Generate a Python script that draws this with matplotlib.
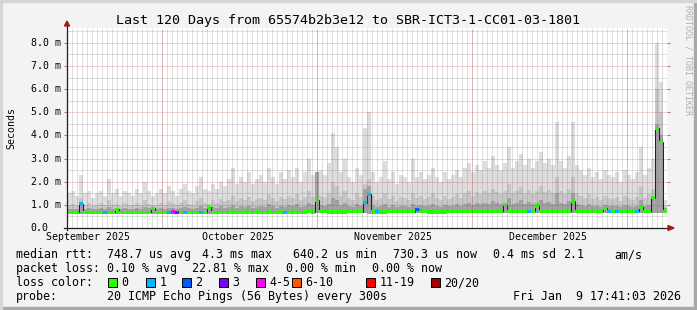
import numpy as np
import matplotlib
matplotlib.use("Agg")
import matplotlib.pyplot as plt
from matplotlib.patches import Rectangle, Polygon

# ---------------- data ----------------
title = "Last 120 Days from 65574b2b3e12 to SBR-ICT3-1-CC01-03-1801"
n_days = 120
bin_days = 0.8  # 150 bins across 120 days

smoke_max = [
    1.5, 1.6, 1.4, 2.3, 1.5, 1.6, 1.3, 1.5,
    1.6, 1.4, 2.1, 1.5, 1.7, 1.4, 1.6, 1.5,
    1.4, 1.7, 1.5, 2.0, 1.6, 1.4, 1.5, 1.7,
    1.5, 1.8, 1.6, 1.4, 1.7, 1.9, 1.6, 1.5,
    1.8, 2.2, 1.7, 1.6, 1.9, 1.7, 2.0, 1.8,
    2.1, 2.6, 1.9, 2.2, 2.0, 2.4, 1.9, 2.1,
    2.3, 2.0, 2.6, 2.2, 1.9, 2.4, 2.1, 2.5,
    2.2, 2.6, 2.0, 2.4, 3.0, 2.3, 2.1, 2.5,
    2.3, 2.8, 4.1, 3.5, 2.4, 3.0, 2.2, 2.0,
    2.6, 2.3, 4.3, 5.0, 2.4, 2.0, 2.2, 2.9,
    2.1, 2.4, 1.9, 2.3, 2.2, 2.0, 3.0, 2.2,
    2.4, 2.1, 2.3, 2.6, 2.2, 2.0, 2.4, 2.1,
    2.3, 2.5, 2.2, 2.6, 2.8, 2.4, 2.7, 2.5,
    2.9, 2.6, 3.1, 2.7, 2.5, 2.8, 3.5, 2.6,
    2.9, 3.2, 2.7, 3.0, 2.6, 2.9, 3.3, 2.8,
    3.0, 2.7, 4.6, 2.9, 2.6, 3.1, 4.6, 2.7,
    2.5, 2.3, 2.6, 2.2, 2.4, 2.1, 2.5, 2.3,
    2.2, 2.4, 2.0, 2.5, 2.3, 2.1, 2.4, 3.5,
    2.3, 2.6, 3.0, 8.0, 6.3, 1.2,
]
smoke_mid = [
    1.0, 1.05, 0.95, 1.3, 1.0, 1.1, 0.95, 1.0,
    1.1, 1.0, 1.2, 1.0, 1.05, 0.95, 1.1, 1.0,
    1.0, 1.1, 1.0, 1.2, 1.05, 1.0, 1.0, 1.1,
    1.0, 1.15, 1.1, 1.0, 1.1, 1.2, 1.05, 1.0,
    1.15, 1.3, 1.1, 1.05, 1.2, 1.1, 1.25, 1.15,
    1.2, 1.4, 1.15, 1.3, 1.2, 1.35, 1.15, 1.25,
    1.3, 1.2, 1.45, 1.3, 1.15, 1.35, 1.25, 1.4,
    1.3, 1.45, 1.2, 1.35, 1.6, 1.35, 1.25, 1.4,
    1.35, 1.5, 2.0, 1.8, 1.4, 1.6, 1.3, 1.2,
    1.5, 1.35, 1.9, 2.1, 1.4, 1.2, 1.3, 1.5,
    1.25, 1.4, 1.15, 1.35, 1.3, 1.2, 1.5, 1.3,
    1.4, 1.25, 1.35, 1.5, 1.3, 1.2, 1.4, 1.25,
    1.35, 1.45, 1.3, 1.5, 1.6, 1.4, 1.55, 1.45,
    1.6, 1.5, 1.7, 1.55, 1.45, 1.6, 1.9, 1.5,
    1.6, 1.75, 1.5, 1.65, 1.45, 1.6, 1.8, 1.55,
    1.65, 1.5, 2.2, 1.6, 1.45, 1.7, 2.2, 1.5,
    1.4, 1.3, 1.45, 1.25, 1.35, 1.2, 1.4, 1.3,
    1.25, 1.35, 1.15, 1.4, 1.3, 1.2, 1.35, 1.8,
    1.3, 1.45, 1.7, 6.0, 5.0, 0.95,
]
smoke_dark = [
    0.82, 0.84, 0.82, 1.0, 0.83, 0.85, 0.82, 0.83,
    0.85, 0.83, 0.9, 0.83, 0.84, 0.82, 0.85, 0.83,
    0.83, 0.86, 0.84, 0.92, 0.85, 0.83, 0.84, 0.86,
    0.84, 0.88, 0.87, 0.84, 0.86, 0.9, 0.85, 0.84,
    0.88, 0.95, 0.87, 0.85, 0.9, 0.87, 0.93, 0.88,
    0.9, 1.0, 0.88, 0.95, 0.9, 0.97, 0.88, 0.92,
    0.95, 0.9, 1.02, 0.95, 0.88, 0.97, 0.92, 1.0,
    0.95, 1.02, 0.9, 0.97, 1.1, 0.98, 2.4, 1.0,
    0.97, 1.05, 1.3, 1.2, 1.0, 1.1, 0.95, 0.92,
    1.05, 0.97, 1.7, 1.8, 1.0, 0.92, 0.95, 1.05,
    0.92, 1.0, 0.9, 0.97, 0.95, 0.92, 1.05, 0.95,
    1.0, 0.93, 0.97, 1.05, 0.95, 0.92, 1.0, 0.93,
    0.97, 1.02, 0.95, 1.05, 1.1, 1.0, 1.08, 1.02,
    1.1, 1.05, 1.15, 1.08, 1.02, 1.1, 1.3, 1.05,
    1.1, 1.2, 1.05, 1.12, 1.02, 1.1, 1.2, 1.08,
    1.12, 1.05, 1.5, 1.1, 1.02, 1.15, 1.5, 1.05,
    1.0, 0.95, 1.02, 0.93, 0.97, 0.92, 1.0, 0.95,
    0.93, 0.97, 0.9, 1.0, 0.95, 0.92, 0.97, 1.2,
    0.95, 1.0, 1.3, 4.5, 4.0, 0.85,
]
median = [
    0.68, 0.68, 0.68, 1.05, 0.68, 0.68, 0.68, 0.68,
    0.68, 0.68, 0.68, 0.68, 0.8, 0.68, 0.68, 0.68,
    0.68, 0.68, 0.68, 0.68, 0.68, 0.85, 0.68, 0.68,
    0.68, 0.68, 0.69, 0.68, 0.68, 0.68, 0.68, 0.68,
    0.68, 0.68, 0.68, 0.9, 0.68, 0.68, 0.68, 0.68,
    0.68, 0.69, 0.68, 0.68, 0.69, 0.68, 0.68, 0.69,
    0.68, 0.68, 0.69, 0.68, 0.68, 0.69, 0.68, 0.68,
    0.69, 0.68, 0.68, 0.69, 0.7, 0.69, 1.2, 0.7,
    0.7, 0.7, 0.71, 0.7, 0.7, 0.7, 0.7, 0.7,
    0.7, 0.7, 1.1, 1.45, 0.7, 0.7, 0.7, 0.7,
    0.7, 0.7, 0.7, 0.71, 0.7, 0.7, 0.7, 0.8,
    0.7, 0.7, 0.71, 0.7, 0.7, 0.71, 0.7, 0.7,
    0.71, 0.71, 0.72, 0.72, 0.72, 0.72, 0.73, 0.72,
    0.72, 0.73, 0.72, 0.72, 0.73, 1.0, 0.72, 0.72,
    0.73, 0.72, 0.72, 0.72, 0.73, 0.95, 0.72, 0.73,
    0.72, 0.72, 0.73, 0.72, 0.72, 0.72, 1.15, 0.72,
    0.72, 0.73, 0.72, 0.72, 0.72, 0.72, 0.85, 0.72,
    0.72, 0.72, 0.73, 0.72, 0.72, 0.72, 0.72, 0.9,
    0.72, 0.72, 1.3, 4.3, 3.7, 0.72,
]
loss = [0] * 150
for _i, _v in [(3, 1), (9, 1), (25, 1), (26, 4), (27, 3), (29, 1), (33, 1), (54, 1),
               (74, 1), (75, 1), (77, 1), (87, 2), (115, 1), (135, 1), (137, 1), (142, 1)]:
    loss[_i] = _v
smoke_min_4day = [0.61, 0.61, 0.62, 0.61, 0.61, 0.62, 0.61, 0.62, 0.62, 0.62,
                  0.62, 0.62, 0.63, 0.62, 0.63, 0.62, 0.63, 0.63, 0.62, 0.63,
                  0.63, 0.63, 0.64, 0.63, 0.63, 0.64, 0.63, 0.63, 0.64, 0.63]

loss_labels = ["0", "1", "2", "3", "4-5", "6-10", "11-19", "20/20"]
loss_colors = ["#26ff00", "#00b8ff", "#0059ff", "#7e00ff", "#ff00ff", "#ff5500", "#ff0000", "#a10000"]
loss_code_color = {0: 0, 1: 1, 2: 2, 3: 3, 4: 4, 5: 4}

month_labels = ["September 2025", "October 2025", "November 2025", "December 2025"]
month_label_pos = [4.2, 34.16, 65.16, 96.2]
month_grid_pos = [19.06, 50.06, 81.06, 112.06]
y_ticks = [0, 1, 2, 3, 4, 5, 6, 7, 8]
y_tick_labels = ["0.0", "1.0 m", "2.0 m", "3.0 m", "4.0 m", "5.0 m", "6.0 m", "7.0 m", "8.0 m"]

legend_line1 = [("median rtt:", 16), ("748.7 us avg", 107), ("4.3 ms max", 202),
                ("640.2 us min", 293), ("730.3 us now", 393), ("0.4 ms sd", 493),
                ("2.1", 563), ("am/s", 614)]
legend_line2 = [("packet loss:", 16), ("0.10 % avg", 107), ("22.81 % max", 192),
                ("0.00 % min", 286), ("0.00 % now", 372)]
loss_box_x = [108, 146, 182, 219, 256, 292, 366, 431]
probe_text = "20 ICMP Echo Pings (56 Bytes) every 300s"
date_text = "Fri Jan  9 17:41:03 2026"

# ---------------- figure ----------------
W, H = 697, 310
fig = plt.figure(figsize=(W / 100, H / 100), dpi=100)
fig.patch.set_facecolor("#f3f3f3")
MONO = "DejaVu Sans Mono"

def fx(x):
    return x / W

def fy(y):
    return 1 - y / H

# frame
for rect, c in [((0, 0, 1, fy(307)), "#a8a8a8"),
                ((fx(694), 0, 1, 1), "#a8a8a8"),
                ((0, fy(2), 1, 1), "#d6d6d6"),
                ((0, 0, fx(2), 1), "#d6d6d6")]:
    fig.patches.append(Rectangle((rect[0], rect[1]), rect[2], rect[3], transform=fig.transFigure,
                                 color=c, zorder=-10))

YPX = 23.15
ax = fig.add_axes([fx(67), fy(228), 600 / W, 200 / H])
ax.set_zorder(2)
ax.set_facecolor("white")
ax.set_xlim(0, n_days)
ax.set_ylim(0, 200 / YPX)
for s in ax.spines.values():
    s.set_visible(False)

edges = np.arange(len(smoke_max) + 1) * bin_days
smin = np.repeat(np.array(smoke_min_4day), 5)

ax.stairs(smoke_max, edges, baseline=smin, fill=True, color="#dddddd", lw=0, zorder=1)
ax.stairs(smoke_mid, edges, baseline=smin, fill=True, color="#c6c6c6", lw=0, zorder=2)
ax.stairs(smoke_dark, edges, baseline=smin, fill=True, color="#a2a2a2", lw=0, zorder=3)

med = np.array(median)
ax.stairs(med, edges, color="#202020", lw=0.75, zorder=4, baseline=None)
hh = 0.066
cols = [loss_colors[loss_code_color[l]] for l in loss]
ax.bar(edges[:-1], 2 * hh, bottom=med - hh, width=bin_days, align="edge", color=cols, lw=0, zorder=5)

# grid
grid_minor = (0.5, 0.5, 0.5, 0.5)
grid_major = (0.9, 0.1, 0.1, 0.4)
dots = (0, (1, 1))
ax.vlines(np.arange(0.06, n_days, 1.0), 0, 200 / YPX, colors=[grid_minor], lw=0.72, linestyles=dots, zorder=6)
ax.hlines(np.arange(0.5, 8.7, 1.0), 0, n_days, colors=[grid_minor], lw=0.72, linestyles=dots, zorder=6)
ax.vlines(month_grid_pos, 0, 200 / YPX, colors=[grid_major], lw=0.72, linestyles=dots, zorder=7)
ax.hlines(y_ticks[1:], 0, n_days, colors=[grid_major], lw=0.72, linestyles=dots, zorder=7)

# ticks
ax.set_yticks(y_ticks)
ax.set_yticklabels([])
ax.tick_params(axis="y", which="major", length=2.5, width=0.72, color="#888888", left=True, right=True)
ax.set_xticks(month_label_pos)
ax.set_xticklabels(month_labels, fontfamily=MONO, fontsize=7.1)
ax.tick_params(axis="x", length=0, pad=2.6)

for v, lab in zip(y_ticks, y_tick_labels):
    fig.text(fx(30.5), fy(228 - v * YPX), lab, fontfamily=MONO, fontsize=7.1, ha="left", va="center")

# axes lines + arrows
ax_line = "#202020"
arrow = "#a11a1a"
fig.add_artist(plt.Line2D([fx(67), fx(67)], [fy(230), fy(25)], transform=fig.transFigure, color=ax_line, lw=0.9, zorder=5))
fig.add_artist(plt.Line2D([fx(64), fx(670)], [fy(228), fy(228)], transform=fig.transFigure, color=ax_line, lw=0.9, zorder=5))
fig.add_artist(Polygon([[fx(64.5), fy(26)], [fx(69.5), fy(26)], [fx(67), fy(21)]], closed=True,
                       transform=fig.transFigure, color=arrow, zorder=5))
fig.add_artist(Polygon([[fx(668), fy(225.5)], [fx(668), fy(230.5)], [fx(674), fy(228)]], closed=True,
                       transform=fig.transFigure, color=arrow, zorder=5))

# texts
fig.text(fx(348.5), fy(24), title, fontfamily=MONO, fontsize=9.6, ha="center", va="baseline")
fig.text(fx(11), fy(128), "Seconds", fontfamily=MONO, fontsize=7.1, rotation=90, ha="center", va="center")
fig.text(fx(688), fy(5), "RRDTOOL / TOBI OETIKER", fontfamily=MONO, fontsize=6.0, rotation=270,
         ha="center", va="top", color="#b0b0b0")

LFS = 8.4
for txt, x in legend_line1:
    fig.text(fx(x), fy(258), txt, fontfamily=MONO, fontsize=LFS, ha="left", va="baseline")
for txt, x in legend_line2:
    fig.text(fx(x), fy(272), txt, fontfamily=MONO, fontsize=LFS, ha="left", va="baseline")
fig.text(fx(16), fy(286), "loss color:", fontfamily=MONO, fontsize=LFS, ha="left", va="baseline")
for bx, lab, c in zip(loss_box_x, loss_labels, loss_colors):
    fig.patches.append(Rectangle((fx(bx), fy(287)), 9 / W, 9 / H, transform=fig.transFigure,
                                 facecolor=c, edgecolor="black", lw=0.7))
    fig.text(fx(bx + 13.5), fy(286), lab, fontfamily=MONO, fontsize=LFS, ha="left", va="baseline")
fig.text(fx(16), fy(300), "probe:", fontfamily=MONO, fontsize=LFS, ha="left", va="baseline")
fig.text(fx(107), fy(300), probe_text, fontfamily=MONO, fontsize=LFS, ha="left", va="baseline")
fig.text(fx(513), fy(300), date_text, fontfamily=MONO, fontsize=LFS, ha="left", va="baseline")

fig.savefig("out.png", dpi=100, facecolor=fig.get_facecolor())
